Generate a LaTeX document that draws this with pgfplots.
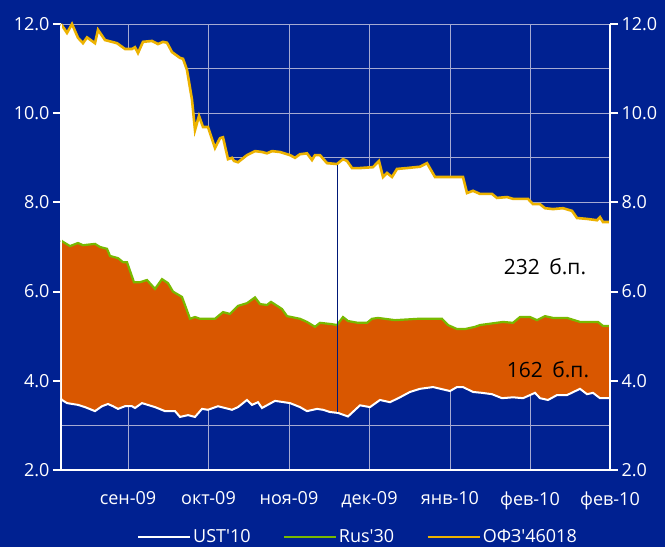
\documentclass[border=0pt]{standalone}
\usepackage{pgfplots}
\pgfplotsset{compat=1.18}
\usepgfplotslibrary{fillbetween}
\usepackage{fontspec}
\setmainfont{Open Sans}[Ligatures=TeXOff]
\definecolor{bgblue}{RGB}{0,33,145}
\definecolor{orfill}{RGB}{217,87,0}
\definecolor{rusgreen}{RGB}{120,185,0}
\definecolor{ofzyellow}{RGB}{236,178,0}
\definecolor{gridc}{RGB}{165,170,210}
\definecolor{navyline}{RGB}{0,25,120}
\begin{document}
\begin{tikzpicture}
\begin{axis}[
  at={(0pt,0pt)}, anchor=south west,
  width=549pt, height=446pt, scale only axis,
  xmin=61, xmax=610, ymin=2, ymax=12,
  set layers, clip=false,
  axis x line=bottom, axis y line=left,
  axis line style={white, line width=1.6pt, -},
  xtick={128,208.5,289,369.5,450,530,610},
  xticklabels={сен-09,окт-09,ноя-09,дек-09,янв-10,фев-10,фев-10},
  ytick={2,4,...,12}, minor ytick={3,5,...,11},
  grid=both,
  major grid style={color=gridc, line width=0.8pt},
  minor grid style={color=gridc, line width=0.8pt},
  tick align=outside, major tick length=8pt, minor tick length=0pt,
  ytick style={white, line width=1.8pt},
  xtick style={draw=none},
  tick label style={font=\fontsize{18}{20}\selectfont, text=white},
  yticklabel style={/pgf/number format/.cd, fixed, fixed zerofill, precision=1, assume math mode=true},
  xticklabel style={yshift=-10pt},
  legend style={at={(0.541,-0.150)}, anchor=center, draw=none, fill=none,
    legend columns=3, font=\fontsize{18}{20}\selectfont, text=white,
    /tikz/every even column/.append style={column sep=30pt}},
  legend image code/.code={\draw[#1] (0pt,0pt) -- (52pt,0pt);},
]
\begin{pgfonlayer}{axis background}
\fill[bgblue] (rel axis cs:0,0) ++(-61pt,-77pt) rectangle ++(665pt,547pt);
\end{pgfonlayer}
\addplot[white, line width=2pt, name path=ust] coordinates {
(61,3.6) (62,3.57) (67,3.5) (78,3.46) (85,3.41) (95,3.32) (102,3.43) (108,3.48)
(113,3.43) (118,3.37) (125,3.43) (132,3.43) (135,3.39) (142,3.5) (155,3.41)
(165,3.32) (175,3.32) (180,3.19) (188,3.23) (195,3.19) (202,3.37) (208,3.35)
(218,3.43) (232,3.35) (238,3.41) (247,3.57) (252,3.46) (258,3.52) (262,3.39)
(275,3.55) (290,3.5) (300,3.41) (307,3.32) (317,3.37) (323,3.35) (330,3.3)
(338,3.28) (348,3.2) (360,3.45) (370,3.41) (380,3.57) (390,3.52) (400,3.63)
(410,3.75) (420,3.82) (433,3.86) (450,3.77) (457,3.86) (463,3.86) (473,3.75)
(482,3.73) (492,3.7) (502,3.61) (513,3.63) (523,3.61) (535,3.73) (540,3.61)
(548,3.57) (557,3.68) (567,3.68) (580,3.82) (587,3.7) (593,3.73) (600,3.61) (610,3.61)
};
\addlegendentry{UST'10}
\addplot[rusgreen, line width=2.2pt, name path=rus] coordinates {
(61,7.15) (62,7.13) (70,7.02) (78,7.09) (83,7.04) (95,7.07) (100,7.0) (107,6.96)
(110,6.8) (118,6.75) (123,6.66) (127,6.66) (134,6.21) (140,6.21) (147,6.26)
(155,6.06) (162,6.28) (168,6.19) (173,6.0) (182,5.88) (190,5.39) (195,5.43)
(200,5.39) (215,5.39) (223,5.54) (230,5.5) (238,5.68) (247,5.74) (255,5.87)
(260,5.72) (267,5.7) (271,5.77) (282,5.61) (287,5.45) (300,5.39) (307,5.32)
(315,5.21) (320,5.3) (332,5.27) (337,5.25) (343,5.43) (348,5.34) (358,5.3)
(367,5.3) (372,5.39) (378,5.41) (395,5.36) (418,5.39) (442,5.39) (448,5.25)
(457,5.16) (465,5.16) (475,5.21) (480,5.25) (503,5.32) (513,5.3) (520,5.43)
(530,5.43) (537,5.36) (545,5.45) (553,5.41) (567,5.41) (580,5.32) (598,5.32)
(603,5.23) (610,5.23)
};
\addlegendentry{Rus'30}
\addplot[ofzyellow, line width=2.6pt, name path=ofz] coordinates {
(61,12.0) (67,11.8) (72,12.0) (78,11.69) (83,11.57) (87,11.7) (95,11.57) (98,11.87)
(105,11.64) (117,11.57) (125,11.44) (132,11.44) (135,11.48) (138,11.35) (143,11.6)
(152,11.62) (158,11.55) (163,11.6) (167,11.58) (172,11.37) (180,11.24) (183,11.22)
(187,10.97) (192,10.3) (195,9.62) (199,9.94) (203,9.69) (208,9.69) (215,9.22)
(220,9.44) (223,9.46) (228,8.97) (232,9.0) (234,8.93) (238,8.9) (247,9.06)
(255,9.15) (262,9.13) (267,9.1) (272,9.15) (280,9.13) (290,9.06) (295,9.0)
(300,9.08) (307,9.1) (312,8.95) (315,9.06) (320,9.06) (327,8.88) (337,8.86)
(343,8.97) (347,8.93) (352,8.77) (360,8.77) (373,8.79) (379,8.93) (383,8.57)
(387,8.66) (392,8.57) (397,8.75) (407,8.77) (420,8.8) (427,8.88) (435,8.57)
(463,8.57) (467,8.21) (473,8.26) (480,8.19) (492,8.19) (497,8.1) (507,8.12)
(513,8.08) (528,8.08) (533,7.96) (540,7.96) (545,7.87) (553,7.85) (563,7.87)
(572,7.81) (577,7.65) (587,7.63) (597,7.6) (600,7.67) (603,7.56) (610,7.56)
};
\addlegendentry{ОФЗ'46018}
\addplot[draw=none, fill=white, forget plot] fill between[of=ofz and rus];
\addplot[draw=none, fill=orfill, forget plot] fill between[of=rus and ust];
\addplot[navyline, line width=1pt, forget plot] coordinates {(337,3.3) (337,8.84)};
\node[font=\fontsize{21}{24}\selectfont, text=black] at (axis cs:545,6.55) {232\hspace{0.45em}б.п.};
\node[font=\fontsize{21}{24}\selectfont, text=black] at (axis cs:548,4.24) {162\hspace{0.45em}б.п.};
\end{axis}
\begin{axis}[
  at={(0pt,0pt)}, anchor=south west,
  width=549pt, height=446pt, scale only axis,
  xmin=61, xmax=610, ymin=2, ymax=12,
  axis y line=right, axis x line=bottom,
  x axis line style={draw=none}, xtick=\empty,
  y axis line style={white, line width=1.6pt, -},
  ytick={2,4,...,12},
  tick align=outside, major tick length=8pt,
  ytick style={white, line width=1.8pt},
  tick label style={font=\fontsize{18}{20}\selectfont, text=white},
  yticklabel style={/pgf/number format/.cd, fixed, fixed zerofill, precision=1, assume math mode=true},
]
\addplot[draw=none, forget plot] coordinates {(61,2) (610,12)};
\draw[white, line width=1.6pt] (rel axis cs:0,0) -- (rel axis cs:0,1);
\end{axis}
\pgfresetboundingbox
\useasboundingbox (-61pt,-77pt) rectangle (604pt,470pt);
\end{tikzpicture}
\end{document}
